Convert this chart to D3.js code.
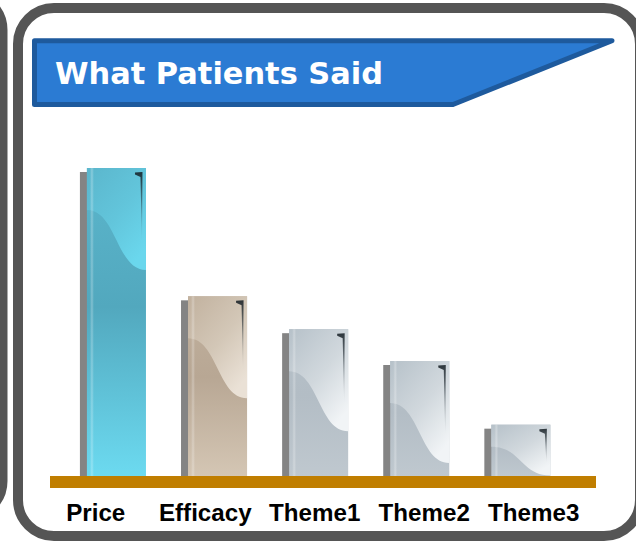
<!DOCTYPE html>
<html>
<head>
<meta charset="utf-8">
<script src="https://cdn.jsdelivr.net/npm/d3@7"></script>
<style>
  html, body { margin: 0; padding: 0; background: #ffffff; }
  svg { display: block; }
</style>
</head>
<body>
<div id="chart"></div>
<script>
// Survey results: share of patient comments by theme
const categories = ["Price", "Efficacy", "Theme1", "Theme2", "Theme3"];
const values = [60, 35, 28.6, 22.4, 10];
const titleText = "What Patients Said";

// Glossy fill palette for each bar (top, middle, bottom, highlight glow)
const palette = {
  Price:    { top: "#5bb6cc", mid: "#52a8be", bottom: "#6cdaf0", glow: "#6ad7ed" },
  Efficacy: { top: "#c1b19e", mid: "#b8a794", bottom: "#d4c6b4", glow: "#eae1d6" },
  Theme1:   { top: "#b6c1c9", mid: "#b3bdc5", bottom: "#bfc8cf", glow: "#f1f4f6" },
  Theme2:   { top: "#b6c1c9", mid: "#b3bdc5", bottom: "#bfc8cf", glow: "#f1f4f6" },
  Theme3:   { top: "#b6c1c9", mid: "#b3bdc5", bottom: "#bfc8cf", glow: "#f1f4f6" }
};

const W = 636, H = 541;
const baseY = 476;

const svg = d3.select("#chart").append("svg")
  .attr("width", W).attr("height", H);
const defs = svg.append("defs");

// Neighbouring panel edge on the left
svg.append("rect")
  .attr("x", -400).attr("y", -6).attr("width", 403).attr("height", 523)
  .attr("rx", 36).attr("ry", 36)
  .attr("fill", "#ffffff").attr("stroke", "#555555").attr("stroke-width", 9);

// Main rounded panel
svg.append("rect")
  .attr("x", 18).attr("y", 8).attr("width", 622).attr("height", 528)
  .attr("rx", 36).attr("ry", 36)
  .attr("fill", "#ffffff").attr("stroke", "#555555").attr("stroke-width", 10);

// Header banner with a slanted right end
svg.append("path")
  .attr("d", "M34.5,40.8 L612,40.8 L453,104.5 L34.5,104.5 Z")
  .attr("fill", "#2b7bd3")
  .attr("stroke", "#1e5a9d")
  .attr("stroke-width", 5)
  .attr("stroke-linejoin", "round");

svg.append("text")
  .attr("x", 55).attr("y", 84)
  .attr("font-family", "'DejaVu Sans', Verdana, sans-serif")
  .attr("font-weight", "bold")
  .attr("font-size", 30)
  .attr("fill", "#ffffff")
  .attr("textLength", 328)
  .attr("lengthAdjust", "spacingAndGlyphs")
  .text(titleText);

// Scales
const x = d3.scaleBand()
  .domain(categories)
  .range([66.7, 570.6])
  .paddingInner(0.416)
  .paddingOuter(0.2);

const y = d3.scaleLinear()
  .domain([0, 60])
  .range([baseY, 168]);

const labelScale = d3.scaleBand()
  .domain(categories)
  .range([41, 588.5]);

// Gradients per bar
categories.forEach((c, i) => {
  const p = palette[c];
  const g = defs.append("linearGradient")
    .attr("id", "base" + i)
    .attr("x1", 0).attr("y1", 0).attr("x2", 0).attr("y2", 1);
  g.append("stop").attr("offset", 0).attr("stop-color", p.top);
  g.append("stop").attr("offset", 0.45).attr("stop-color", p.mid);
  g.append("stop").attr("offset", 1).attr("stop-color", p.bottom);

  const h = defs.append("linearGradient")
    .attr("id", "glow" + i)
    .attr("x1", 0).attr("y1", 0).attr("x2", 0.7).attr("y2", 1);
  h.append("stop").attr("offset", 0).attr("stop-color", p.top);
  h.append("stop").attr("offset", 0.55).attr("stop-color", d3.interpolateRgb(p.top, p.glow)(0.45));
  h.append("stop").attr("offset", 1).attr("stop-color", p.glow);
});

const markGrad = defs.append("linearGradient")
  .attr("id", "mark").attr("x1", 0).attr("y1", 0).attr("x2", 0).attr("y2", 1);
markGrad.append("stop").attr("offset", 0).attr("stop-color", "#111a20").attr("stop-opacity", 0.85);
markGrad.append("stop").attr("offset", 0.45).attr("stop-color", "#1a252c").attr("stop-opacity", 0.45);
markGrad.append("stop").attr("offset", 1).attr("stop-color", "#1a252c").attr("stop-opacity", 0);

const stripGrad = defs.append("linearGradient")
  .attr("id", "strip").attr("x1", 0).attr("y1", 0).attr("x2", 1).attr("y2", 0);
stripGrad.append("stop").attr("offset", 0).attr("stop-color", "#ffffff").attr("stop-opacity", 0);
stripGrad.append("stop").attr("offset", 0.5).attr("stop-color", "#ffffff").attr("stop-opacity", 0.28);
stripGrad.append("stop").attr("offset", 1).attr("stop-color", "#ffffff").attr("stop-opacity", 0);

const bars = svg.append("g").selectAll("g")
  .data(categories.map((c, i) => ({ cat: c, value: values[i], i })))
  .join("g");

// Drop shadow behind each bar
bars.append("rect")
  .attr("x", d => x(d.cat) - 7)
  .attr("y", d => y(d.value) + 4)
  .attr("width", x.bandwidth())
  .attr("height", d => baseY - y(d.value) - 4)
  .attr("fill", "#848484");

// Bar body
bars.append("rect")
  .attr("x", d => x(d.cat))
  .attr("y", d => y(d.value))
  .attr("width", x.bandwidth())
  .attr("height", d => baseY - y(d.value))
  .attr("fill", d => `url(#base${d.i})`);

// Glossy highlight above the wave
bars.append("path")
  .attr("d", d => {
    const x0 = x(d.cat), x1 = x0 + x.bandwidth();
    const top = y(d.value), h = baseY - top;
    const ya = top + Math.min(42, 0.43 * h);
    const yb = top + Math.min(102, 0.99 * h);
    const xm = x0 + x.bandwidth() * 0.5;
    return `M${x0},${top} L${x1},${top} L${x1},${yb} C${xm},${yb} ${xm},${ya} ${x0},${ya} Z`;
  })
  .attr("fill", d => `url(#glow${d.i})`);

// Light vertical strip along the left edge
bars.append("rect")
  .attr("x", d => x(d.cat) + 3)
  .attr("y", d => y(d.value))
  .attr("width", 4)
  .attr("height", d => baseY - y(d.value))
  .attr("fill", "url(#strip)");

// Dark corner glint at the top right
bars.append("path")
  .attr("d", d => {
    const x1 = x(d.cat) + x.bandwidth();
    const top = y(d.value), h = baseY - top;
    const L = Math.min(75, 0.75 * h);
    return `M${x1 - 11},${top + 4.5} L${x1 - 3.5},${top + 4} L${x1 - 4},${top + L} ` +
           `L${x1 - 5.5},${top + 9} L${x1 - 11},${top + 6.5} Z`;
  })
  .attr("fill", "url(#mark)");

// Baseline bar
svg.append("rect")
  .attr("x", 50).attr("y", baseY)
  .attr("width", 546).attr("height", 12)
  .attr("fill", "#c07e00");

// Category labels
const axis = svg.append("g")
  .attr("transform", `translate(0,${baseY + 12})`)
  .call(d3.axisBottom(labelScale).tickSize(0));
axis.select(".domain").remove();
axis.selectAll("text")
  .attr("y", 33).attr("dy", null)
  .attr("font-family", "'Liberation Sans', Arial, sans-serif")
  .attr("font-weight", "bold")
  .attr("font-size", 23)
  .attr("fill", "#000000")
  .each(function () {
    // slightly wider set to match the label lettering
    const len = this.getComputedTextLength();
    d3.select(this).attr("textLength", len * 1.05).attr("lengthAdjust", "spacingAndGlyphs");
  });
</script>
</body>
</html>
